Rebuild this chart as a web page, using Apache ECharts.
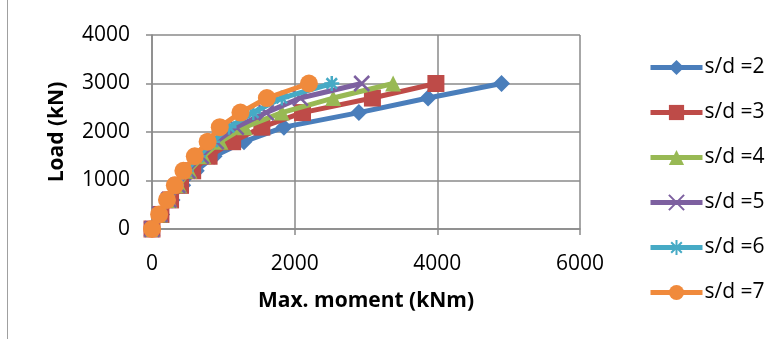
<!DOCTYPE html>
<html><head><meta charset="utf-8">
<script src="https://cdn.jsdelivr.net/npm/echarts@6/dist/echarts.min.js"></script>
<style>html,body{margin:0;padding:0;background:#fff}#c{width:773px;height:339px}</style>
</head><body><div id="c"></div>
<script>
const loads = [0, 300, 600, 900, 1200, 1500, 1800, 2100, 2400, 2700, 3000];
const seriesNames = ['s/d =2', 's/d =3', 's/d =4', 's/d =5', 's/d =6', 's/d =7'];
const moment_sd2 = [0, 135, 280, 430, 620, 870, 1290, 1850, 2900, 3870, 4900];
const moment_sd3 = [0, 125, 260, 400, 570, 800, 1130, 1540, 2110, 3090, 3980];
const moment_sd4 = [0, 115, 245, 380, 525, 720, 960, 1300, 1820, 2540, 3380];
const moment_sd5 = [0, 110, 235, 360, 500, 690, 900, 1180, 1600, 2080, 2940];
const moment_sd6 = [0, 105, 225, 345, 480, 650, 850, 1080, 1420, 1820, 2520];
const moment_sd7 = [0, 100, 210, 320, 440, 600, 780, 950, 1240, 1610, 2200];
const xTicks = [0, 2000, 4000, 6000];
const yTicks = [0, 1000, 2000, 3000, 4000];

const moments = [moment_sd2, moment_sd3, moment_sd4, moment_sd5, moment_sd6, moment_sd7];
const colors = ['#4A7EBB', '#BE4B48', '#98B954', '#7D60A0', '#46AAC5', '#F08A3C'];
const symbols = ['diamond', 'rect', 'triangle',
  'path://M0,0L10,10M10,0L0,10',
  'path://M5,0L5,10M0,5L10,5M1.5,1.5L8.5,8.5M8.5,1.5L1.5,8.5',
  'circle'];
const sizes = [17, 17, 16, 15, 15, 18];
const font = 'Open Sans';

const series = seriesNames.map((n, i) => ({
  name: n, type: 'line',
  data: moments[i].map((m, j) => [m, loads[j]]),
  symbol: symbols[i], symbolSize: sizes[i],
  showAllSymbol: true,
  lineStyle: {color: colors[i], width: 5},
  itemStyle: {color: colors[i], borderColor: colors[i], borderWidth: (i === 3 || i === 4) ? 2.5 : 0},
  z: 2 + i
}));

const chart = echarts.init(document.getElementById('c'), null, {renderer: 'canvas'});
chart.setOption({
  animation: false,
  grid: {left: 152, right: 193, top: 35, bottom: 110},
  xAxis: {
    type: 'value', min: xTicks[0], max: xTicks[xTicks.length - 1], interval: 2000,
    name: 'Max. moment (kNm)', nameLocation: 'middle', nameGap: 62,
    nameTextStyle: {fontFamily: font, fontWeight: 'bold', fontSize: 21, color: '#000'},
    axisLine: {show: true, lineStyle: {color: '#8a8a8a', width: 1.5}},
    axisTick: {show: true, length: 6, lineStyle: {color: '#8a8a8a', width: 1.5}},
    splitLine: {show: true, lineStyle: {color: '#8a8a8a', width: 1.5}},
    axisLabel: {fontFamily: font, fontSize: 21, color: '#000', margin: 25, formatter: v => String(v)}
  },
  yAxis: {
    type: 'value', min: yTicks[0], max: yTicks[yTicks.length - 1], interval: 1000,
    name: 'Load (kN)', nameLocation: 'middle', nameGap: 84, nameRotate: 90,
    nameTextStyle: {fontFamily: font, fontWeight: 'bold', fontSize: 21, color: '#000'},
    axisLine: {show: true, lineStyle: {color: '#8a8a8a', width: 1.5}},
    axisTick: {show: true, length: 6, lineStyle: {color: '#8a8a8a', width: 1.5}},
    splitLine: {show: true, lineStyle: {color: '#8a8a8a', width: 1.5}},
    axisLabel: {fontFamily: font, fontSize: 21, color: '#000', margin: 22, formatter: v => String(v)}
  },
  legend: {
    orient: 'vertical', left: 643, top: 52, itemWidth: 52, itemHeight: 19, itemGap: 24,
    lineStyle: {width: 5},
    textStyle: {fontFamily: font, fontSize: 21, color: '#000', padding: [0, 0, 0, -3]},
    data: seriesNames
  },
  graphic: [{type: 'line', shape: {x1: 7.5, y1: 0, x2: 7.5, y2: 339}, style: {stroke: '#a0a0a0', lineWidth: 1}}],
  series: series
});
</script></body></html>
